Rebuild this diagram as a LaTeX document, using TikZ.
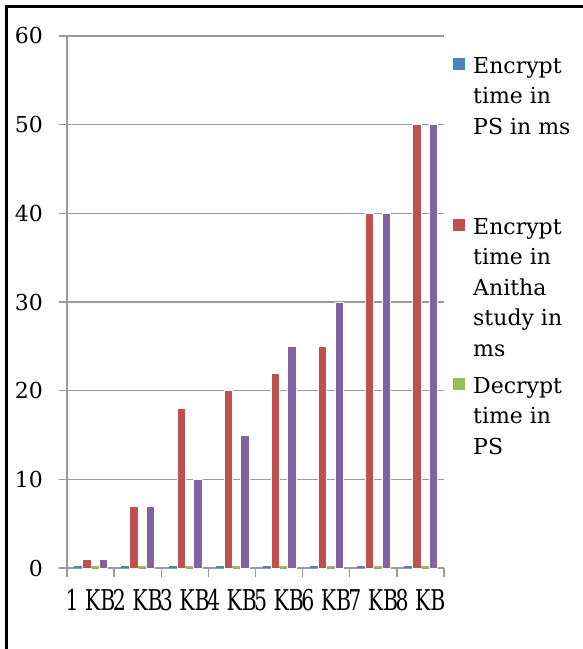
\documentclass[tikz,border=0pt]{standalone}
\usepackage{fontspec}
\setmainfont{DejaVu Serif}
\definecolor{sblue}{HTML}{4F81BD}
\definecolor{sred}{HTML}{C0504D}
\definecolor{sgreen}{HTML}{9BBB59}
\definecolor{spurple}{HTML}{8064A2}
\definecolor{gridgray}{HTML}{9A9A9A}
\begin{document}
\begin{tikzpicture}[x=1pt,y=-1pt,
  gridline/.style={draw=gridgray,line width=1.1pt},
  axisline/.style={draw=gridgray,line width=1.3pt},
  bar/.style={draw=white,line width=0.5pt},
  ylab/.style={anchor=east,inner sep=0pt,font=\fontsize{22}{26}\selectfont},
  xlab/.style={anchor=base,inner sep=0pt,font=\fontsize{22}{26}\selectfont},
  legtext/.style={anchor=north west,inner sep=0pt,align=left,font=\fontsize{22}{30.5}\selectfont},
  legsq/.style={minimum size=12pt,inner sep=0pt,anchor=north west}]
\useasboundingbox (0,0) rectangle (583,649);
% frame
\draw[line width=3pt] (6.5,649) -- (6.5,6) -- (583,6);
% grid and y labels
\foreach \v [count=\k from 0] in {0,10,20,30,40,50,60}{
  \pgfmathsetmacro{\yy}{568-88.67*\k}
  \draw[gridline] (59,\yy) -- (444,\yy);
  \node[ylab] (yl\v) at (43,\yy) {\v};
}
% y axis
\draw[axisline] (67,36) -- (67,568);
% x axis ticks
\foreach \i in {0,...,8}{
  \draw[axisline] ({67+47.125*\i},568) -- ({67+47.125*\i},577);
}
\draw[axisline] (59,568) -- (444,568);
% bars
\foreach \r/\p [count=\i from 0] in {1/1,7/7,18/10,20/15,22/25,25/30,40/40,50/50}{
  \pgfmathsetmacro{\s}{67+47.125*\i+7.3}
  \fill[sblue] (\s,568) rectangle ++(8.3,-2);
  \filldraw[bar,fill=sred] ({\s+8.3},568) rectangle ++(8.3,{-8.867*\r});
  \fill[sgreen] ({\s+16.6},568) rectangle ++(8.3,-2);
  \filldraw[bar,fill=spurple] ({\s+24.9},568) rectangle ++(8.3,{-8.867*\p});
  \node[xlab] (xl\i) at ({67+47.125*(\i+0.5)},610) {\scalebox{0.93}[1.3]{\the\numexpr\i+1\relax\ KB}};
}
% legend
\node[legsq,fill=sblue] (sqa) at (452.5,58) {};
\node[legtext] (lga) at (473,57) {Encrypt\\time in\\PS in ms};
\node[legsq,fill=sred] (sqb) at (452.5,219) {};
\node[legtext] (lgb) at (473,218) {Encrypt\\time in\\Anitha\\study in\\ms};
\node[legsq,fill=sgreen] (sqc) at (452.5,378) {};
\node[legtext] (lgc) at (473,377) {Decrypt\\time in\\PS};
\end{tikzpicture}
\end{document}
